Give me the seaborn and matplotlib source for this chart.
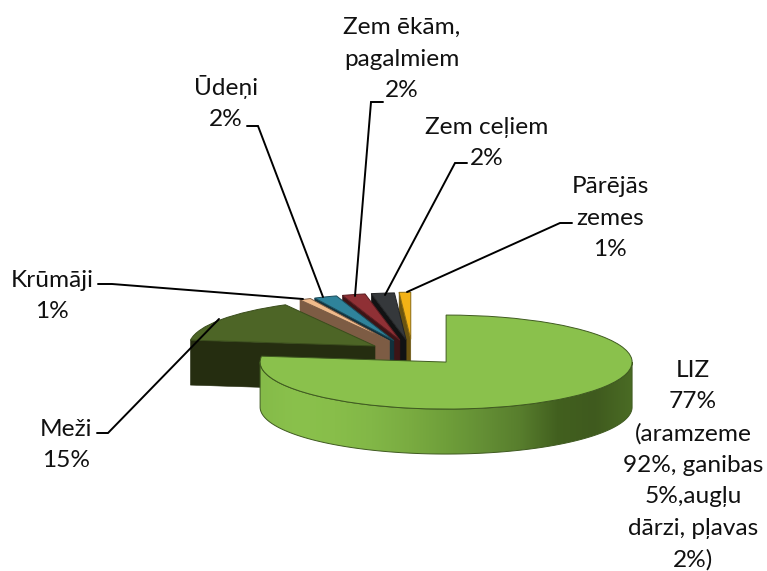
import numpy as np
import matplotlib
matplotlib.use("Agg")
import matplotlib.pyplot as plt
from matplotlib.colors import LinearSegmentedColormap
from matplotlib.patches import Polygon
import seaborn as sns

# slices go clockwise from 12 o'clock
names = ["LIZ", "Meži", "Krūmāji", "Ūdeņi", "Zem ēkām", "Zem ceļiem", "Pārējās zemes"]
shares = [77, 15, 1, 2, 2, 2, 1]
explode = [0.274, 0.243, 0.27, 0.27, 0.27, 0.27, 0.28]
top_colors = ["#8ac14c", "#4d6526", "#f0bb8c", "#2f839b", "#8f3035", "#35383b", "#f3b216"]
side_colors = ["#5c8a30", "#252d10", "#7d5c44", "#10303c", "#3d1416", "#111213", "#6b5410"]
edge_colors = ["#3f5a20", "#3a4d1c", "#7d5c44", "#1c4c5a", "#5a1c20", "#222426", "#8a6a10"]
rim_gradient = ["#85bb49", "#8ac14c", "#88be4a", "#82b747", "#7aac41", "#6f9f3a",
                "#648f35", "#587e2d", "#42601f", "#3f5a1e", "#4a6b24"]

label_texts = [
    "LIZ\n77%\n(aramzeme\n92%, ganibas\n5%,augļu\ndārzi, pļavas\n2%)",
    "Meži\n15%",
    "Krūmāji\n1%",
    "Ūdeņi\n2%",
    "Zem ēkām,\npagalmiem\n2%",
    "Zem ceļiem\n2%",
    "Pārējās\nzemes\n1%",
]

W, H = 767, 571
CX, CY = 412.4, 352.4   # pie origin in pixels
RX, RY = 186.0, 47.0    # squashed radius
DEPTH = 45.0 / RY

sns.set_theme(style="white")
plt.rcParams["font.family"] = ["Lato", "DejaVu Sans"]


def px(x, y):
    return (x - CX) / RX, (CY - y) / RY


fig = plt.figure(figsize=(W / 100, H / 100), dpi=100)
ax = fig.add_axes([0, 0, 1, 1])

wedges, _ = ax.pie(shares, startangle=90, counterclock=False, explode=explode,
                   colors=sns.color_palette(top_colors), radius=1,
                   wedgeprops=dict(linewidth=0.7))
ax.set_aspect("auto")
ax.axis("off")

for i, w in enumerate(wedges):
    z = 10 * (len(wedges) - i)
    w.set_zorder(z + 1)
    w.set_edgecolor(edge_colors[i])
    cx, cy = w.center
    if i == 0:
        # outer wall of the big slice, shaded left to right
        t = np.radians(np.linspace(-180, 0, 200))
        xs = cx + np.cos(t)
        ys = cy + np.sin(t)
        pts = np.r_[np.c_[xs, ys], np.c_[xs[::-1], ys[::-1] - DEPTH]]
        wall = Polygon(pts, closed=True, facecolor="none", edgecolor=edge_colors[0],
                       linewidth=0.7, zorder=z + 0.5)
        ax.add_patch(wall)
        cmap = LinearSegmentedColormap.from_list("rim", rim_gradient)
        im = ax.imshow(np.linspace(0, 1, 256)[None, :], cmap=cmap, aspect="auto",
                       extent=[cx - 1, cx + 1, ys.min() - DEPTH, ys.max()], zorder=z)
        im.set_clip_path(wall)
    else:
        # cut face along the counter-clockwise edge of the slice
        a = np.radians(w.theta2)
        rx, ry = cx + np.cos(a), cy + np.sin(a)
        ax.fill([cx, rx, rx, cx], [cy, ry, ry - DEPTH, cy - DEPTH],
                color=side_colors[i], linewidth=0.4, zorder=z)

ax.set_xlim(px(0, 0)[0], px(W, 0)[0])
ax.set_ylim(px(0, H)[1], px(0, 0)[1])

# labels: centre x and last baseline, in pixels of the 767x571 canvas
label_pos = [(693, 567), (66, 467), (52, 318), (226, 126), (402, 97), (487, 165), (610, 256)]
for txt, (x, y) in zip(label_texts, label_pos):
    ax.text(*px(x, y), txt, ha="center", va="baseline", multialignment="center",
            fontsize=17.6, color="#111111", linespacing=1.61, zorder=100)

leaders = [
    [(97, 433), (108, 433), (219, 319)],
    [(98, 284), (112, 284), (303, 299)],
    [(247, 126), (258, 126), (323, 297)],
    [(383, 102), (371, 102), (355, 296)],
    [(467, 163), (455, 163), (385, 295)],
    [(572, 223), (560, 223), (407, 292)],
]
for line in leaders:
    xy = np.array([px(*p) for p in line])
    ax.plot(xy[:, 0], xy[:, 1], color="black", linewidth=1.4, zorder=99,
            solid_joinstyle="miter")

fig.savefig("out.png", dpi=100)
